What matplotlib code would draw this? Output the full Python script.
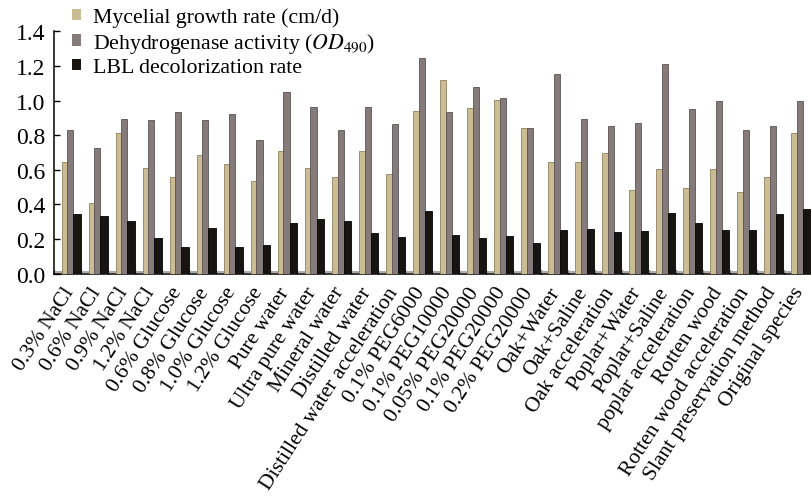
import matplotlib
matplotlib.use("Agg")
import matplotlib.pyplot as plt
from matplotlib.patches import Patch
import numpy as np

plt.rcParams['font.family'] = ['Liberation Serif', 'DejaVu Serif']
plt.rcParams['mathtext.fontset'] = 'stix'

treatments = [
    "0.3% NaCl", "0.6% NaCl", "0.9% NaCl", "1.2% NaCl",
    "0.6% Glucose", "0.8% Glucose", "1.0% Glucose", "1.2% Glucose",
    "Pure water", "Ultra pure water", "Mineral water", "Distilled water",
    "Distilled water acceleration", "0.1% PEG6000", "0.1% PEG10000",
    "0.05% PEG20000", "0.1% PEG20000", "0.2% PEG20000",
    "Oak+Water", "Oak+Saline", "Oak acceleration", "Poplar+Water",
    "Poplar+Saline", "poplar acceleration", "Rotten wood",
    "Rotten wood acceleration", "Slant preservation method", "Original species",
]

growth = [0.645, 0.41, 0.81, 0.608, 0.558, 0.683, 0.635, 0.533,
          0.708, 0.608, 0.558, 0.708, 0.573, 0.942, 1.117, 0.954,
          1.004, 0.842, 0.647, 0.647, 0.696, 0.483, 0.606, 0.493,
          0.606, 0.47, 0.558, 0.811]

dehydrogenase = [0.831, 0.727, 0.896, 0.887, 0.935, 0.885, 0.923, 0.773,
                 1.05, 0.961, 0.831, 0.963, 0.865, 1.248, 0.933, 1.077,
                 1.013, 0.84, 1.156, 0.892, 0.852, 0.871, 1.209, 0.95,
                 0.996, 0.831, 0.852, 0.996]

decolorization = [0.342, 0.33, 0.304, 0.205, 0.155, 0.266, 0.153, 0.166,
                  0.291, 0.316, 0.304, 0.233, 0.214, 0.362, 0.224, 0.206,
                  0.216, 0.174, 0.253, 0.256, 0.241, 0.247, 0.35, 0.295,
                  0.249, 0.249, 0.347, 0.376]

series_labels = ["Mycelial growth rate (cm/d)",
                 r"Dehydrogenase activity ($\mathit{OD}_{490}$)",
                 "LBL decolorization rate"]

face = ['#cbbd93', '#857b7b', '#171412']
edge = ['#8f8160', '#5c5353', '#050404']

fig = plt.figure(figsize=(8.12, 5.02), dpi=100)
ax = fig.add_axes([0.0665, 0.453, 0.932, 0.4827])

x = np.arange(len(treatments))
lefts = [0.285, 0.49, 0.715]
widths = [0.205, 0.225, 0.275]
for vals, l, w, fc, ec in zip([growth, dehydrogenase, decolorization],
                              lefts, widths, face, edge):
    ax.bar(x + l, vals, width=w, align='edge', color=fc,
           edgecolor=ec, linewidth=0.6, zorder=3)

# grey floor line just above the axis
ax.axhline(0.008, color='#a8a2a0', lw=1.3, zorder=2)

ax.set_xlim(0, len(treatments))
ax.set_ylim(0, 1.4)
ax.set_yticks(np.arange(0, 1.41, 0.2))
ax.set_yticklabels([f"{v:.1f}" for v in np.arange(0, 1.41, 0.2)], fontsize=17)
ax.tick_params(axis='y', direction='in', length=4, width=1, pad=6)

ax.set_xticks(x + 0.88)
ax.set_xticklabels(treatments, rotation=57, ha='right', va='top',
                   fontsize=15.5)
ax.tick_params(axis='x', which='major', length=0, pad=7)
ax.set_xticks(np.arange(0, len(treatments) + 1), minor=True)
ax.tick_params(axis='x', which='minor', direction='in', length=3, width=1)

for s in ['top', 'right']:
    ax.spines[s].set_visible(False)
for s in ['left', 'bottom']:
    ax.spines[s].set_linewidth(1.1)

handles = [Patch(facecolor=c, edgecolor='none') for c in face]
fig.legend(handles, series_labels, loc='upper left',
           bbox_to_anchor=(0.078, 1.0), frameon=False, fontsize=15.7,
           handlelength=0.42, handleheight=0.42, handletextpad=0.55,
           labelspacing=0.15, borderaxespad=0.0)

fig.savefig("out.png", dpi=100)
